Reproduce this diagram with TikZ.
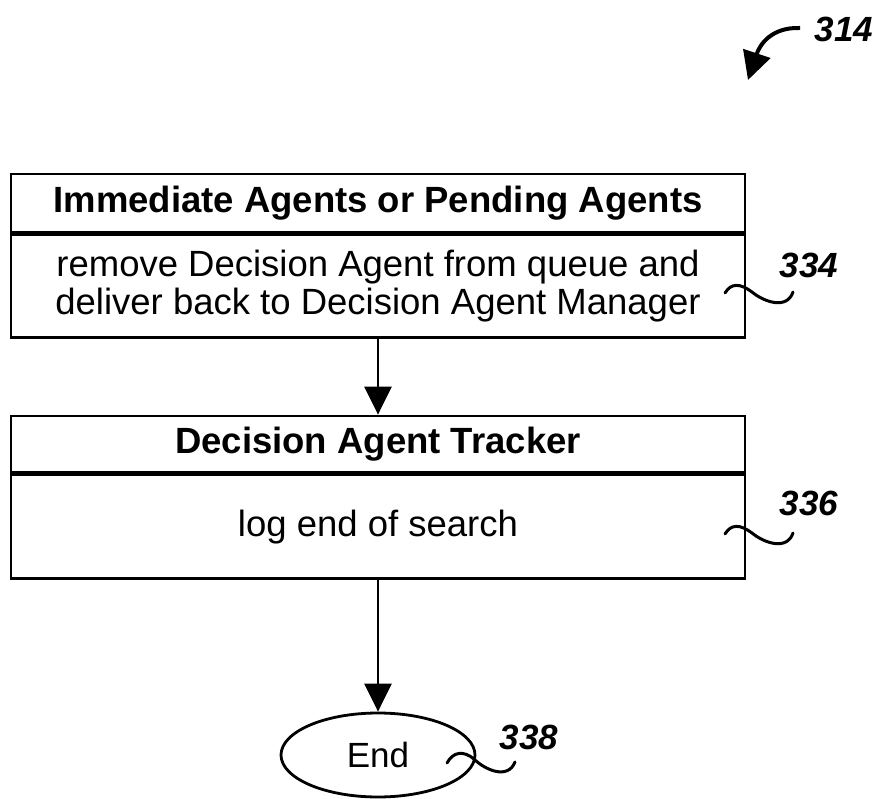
\documentclass[tikz,border=0pt]{standalone}
\usepackage{fontspec}
\setmainfont{Liberation Sans}
\usetikzlibrary{arrows.meta,shapes.geometric}
\begin{document}
\begin{tikzpicture}[x=1pt,y=1pt,
  boxpart/.style={draw, line width=2.8pt, minimum width=734pt, inner sep=0pt,
    font=\fontsize{36.5}{38}\selectfont, align=center},
  hdr/.style={boxpart, font=\bfseries\fontsize{36.5}{38}\selectfont},
  flow/.style={line width=2.8pt, -{Triangle[width=27pt,length=28pt]}},
  refnum/.style={font=\bfseries\itshape\fontsize{35}{35}\selectfont, inner sep=0pt},
  lead/.style={line width=3pt, line cap=round}]
\useasboundingbox (0,0) rectangle (884,-799);

\node[hdr, minimum height=58pt] (h1) at (378,-203) {Immediate Agents or Pending Agents};
\node[boxpart, minimum height=103pt, anchor=north] (b1) at (h1.south)
  {remove Decision Agent from queue and\\deliver back to Decision Agent Manager};

\node[hdr, minimum height=56pt] (h2) at (378,-444) {Decision Agent Tracker};
\node[boxpart, minimum height=104pt, anchor=north] (b2) at (h2.south) {log end of search};

\node[draw, ellipse, line width=2.8pt, minimum width=194pt, minimum height=84pt,
  inner sep=0pt, font=\fontsize{35}{38}\selectfont] (end) at (378,-755) {End};

\draw[flow] (b1.south) -- (h2.north);
\draw[flow] (b2.south) -- (end.north);

% reference numerals
\node[refnum] (n314) at (844,-29) {314};
\node[refnum] (n334) at (809,-265) {334};
\node[refnum] (n336) at (809,-503) {336};
\node[refnum] (n338) at (529,-737) {338};

\coordinate (s314) at (800,-28);
\draw[line width=4pt, -{Triangle[width=28pt,length=28pt]}]
  (s314) .. controls (772,-27) and (760,-44) .. (748,-80);

\draw[lead] (725,-293) .. controls (731,-283) and (740,-283) .. (752,-292)
  .. controls (764,-302) and (787,-310) .. (793,-292);
\draw[lead] (725,-534) .. controls (731,-524) and (740,-524) .. (752,-533)
  .. controls (764,-543) and (787,-551) .. (793,-533);
\draw[lead] (447,-763) .. controls (453,-752) and (463,-750) .. (474,-759)
  .. controls (485,-770) and (508,-780) .. (515,-762);
\end{tikzpicture}
\end{document}
